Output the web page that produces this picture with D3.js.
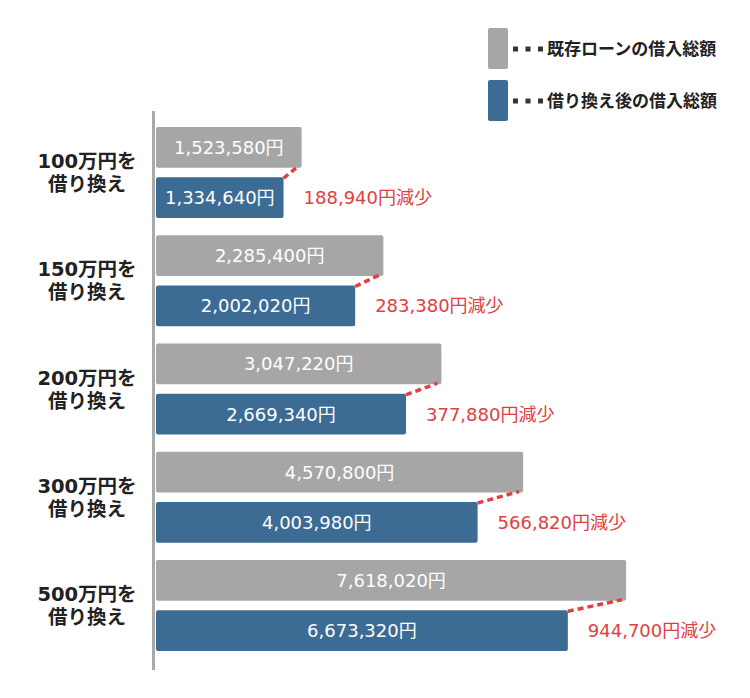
<!DOCTYPE html>
<html>
<head>
<meta charset="utf-8">
<script src="https://cdn.jsdelivr.net/npm/d3@7"></script>
<style>
  body { margin: 0; background: #fff; }
  text { font-family: "DejaVu Sans", "Noto Sans CJK JP", sans-serif; }
  .cjk { font-family: "Noto Sans CJK JP", sans-serif; }
</style>
</head>
<body>
<div class="canvas"></div>
<script>
// data
var loans = ["100万円", "150万円", "200万円", "300万円", "500万円"];
var before = [1523580, 2285400, 3047220, 4570800, 7618020];
var after = [1334640, 2002020, 2669340, 4003980, 6673320];
var legendLabels = ["既存ローンの借入総額", "借り換え後の借入総額"];

var width = 750,
    height = 698;

var grayColor = "#a6a6a6",
    blueColor = "#3c6b94",
    redColor = "#e0403f",
    axisColor = "#a9a9a9";

var svg = d3.select(".canvas").append("svg")
    .attr("width", width)
    .attr("height", height);

var x0 = 156;

// group lengths are compressed (log), each pair keeps its own ratio
var x = d3.scaleLog()
    .domain([740000, 8000000])
    .range([x0, x0 + 480]);

var y = d3.scaleBand()
    .domain(loans)
    .range([127, 651])
    .paddingInner(0.16)
    .paddingOuter(0);

var ySub = d3.scaleBand()
    .domain(["before", "after"])
    .range([0, y.bandwidth()])
    .paddingInner(0.19);

var fmt = d3.format(",");

// axis line
svg.append("line")
    .attr("x1", 153.5)
    .attr("x2", 153.5)
    .attr("y1", 111)
    .attr("y2", 670)
    .attr("stroke", axisColor)
    .attr("stroke-width", 3);

var groups = svg.selectAll("g.loan")
    .data(loans)
    .enter().append("g")
    .attr("class", "loan")
    .attr("transform", function(d) { return "translate(0," + y(d) + ")"; });

groups.each(function(d, i) {
    var g = d3.select(this);
    // linear inside the pair
    var xi = d3.scaleLinear()
        .domain([0, before[i]])
        .range([x0, x(before[i])]);
    var gEnd = xi(before[i]),
        bEnd = xi(after[i]),
        h = ySub.bandwidth();

    g.append("rect")
        .attr("x", x0)
        .attr("y", ySub("before"))
        .attr("width", gEnd - x0)
        .attr("height", h)
        .attr("rx", 2)
        .attr("fill", grayColor);

    g.append("rect")
        .attr("x", x0)
        .attr("y", ySub("after"))
        .attr("width", bEnd - x0)
        .attr("height", h)
        .attr("rx", 2)
        .attr("fill", blueColor);

    // dashed link between bar ends
    g.append("line")
        .attr("x1", bEnd)
        .attr("y1", ySub("after") + 1)
        .attr("x2", gEnd - 4)
        .attr("y2", ySub("before") + h - 1)
        .attr("stroke", redColor)
        .attr("stroke-width", 3.5)
        .attr("stroke-dasharray", "6,4");

    g.append("text")
        .attr("x", (x0 + gEnd) / 2)
        .attr("y", ySub("before") + h / 2)
        .attr("dy", "0.36em")
        .attr("text-anchor", "middle")
        .attr("fill", "#fff")
        .style("font-size", "18px")
        .text(fmt(before[i]) + "円");

    g.append("text")
        .attr("x", (x0 + bEnd) / 2)
        .attr("y", ySub("after") + h / 2)
        .attr("dy", "0.36em")
        .attr("text-anchor", "middle")
        .attr("fill", "#fff")
        .style("font-size", "18px")
        .text(fmt(after[i]) + "円");

    g.append("text")
        .attr("x", bEnd + 20)
        .attr("y", ySub("after") + h / 2)
        .attr("dy", "0.36em")
        .attr("fill", redColor)
        .style("font-size", "18px")
        .text(fmt(before[i] - after[i]) + "円減少");

    // category label, two lines
    var lbl = g.append("text")
        .attr("x", 87)
        .attr("text-anchor", "middle")
        .attr("fill", "#222")
        .style("font-size", "19.5px")
        .style("font-weight", "bold");
    lbl.append("tspan")
        .attr("x", 87)
        .attr("y", y.bandwidth() / 2 - 11.5)
        .attr("dy", "0.36em")
        .text(d + "を");
    lbl.append("tspan")
        .attr("x", 87)
        .attr("y", y.bandwidth() / 2 + 11.5)
        .attr("dy", "0.36em")
        .text("借り換え");
});

// legend
var legend = svg.selectAll("g.legend")
    .data(legendLabels)
    .enter().append("g")
    .attr("class", "legend")
    .attr("transform", function(d, i) { return "translate(488," + (28 + i * 52) + ")"; });

legend.append("rect")
    .attr("width", 20)
    .attr("height", 41)
    .attr("rx", 2)
    .attr("fill", function(d, i) { return i == 0 ? grayColor : blueColor; });

legend.append("line")
    .attr("x1", 25)
    .attr("x2", 56)
    .attr("y1", 21)
    .attr("y2", 21)
    .attr("stroke", "#333")
    .attr("stroke-width", 5)
    .attr("stroke-dasharray", "5,7.5");

legend.append("text")
    .attr("class", "cjk")
    .attr("x", 59)
    .attr("y", 21)
    .attr("dy", "0.35em")
    .attr("fill", "#222")
    .style("font-size", "17px")
    .style("font-weight", "bold")
    .text(function(d) { return d; });
</script>
</body>
</html>
